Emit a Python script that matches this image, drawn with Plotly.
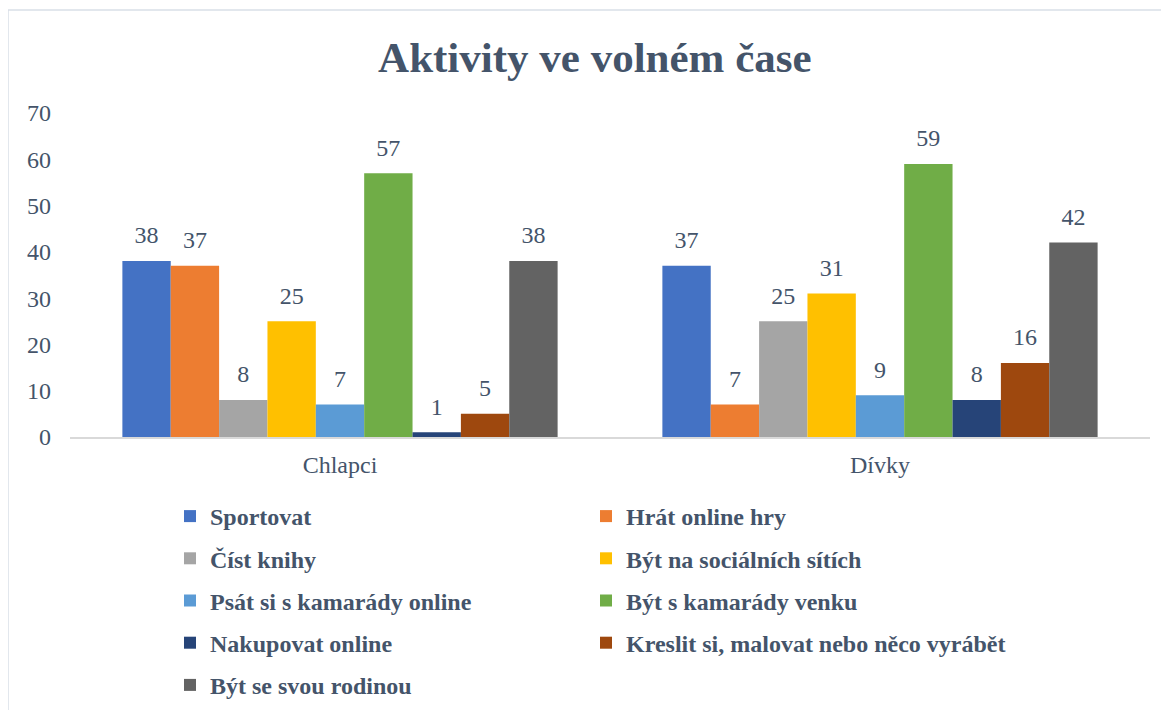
import plotly.graph_objects as go

skupiny = ["Chlapci", "Dívky"]
aktivity = [
    "Sportovat",
    "Hrát online hry",
    "Číst knihy",
    "Být na sociálních sítích",
    "Psát si s kamarády online",
    "Být s kamarády venku",
    "Nakupovat online",
    "Kreslit si, malovat nebo něco vyrábět",
    "Být se svou rodinou",
]
chlapci = [38, 37, 8, 25, 7, 57, 1, 5, 38]
divky = [37, 7, 25, 31, 9, 59, 8, 16, 42]
barvy = ["#4472C4", "#ED7D31", "#A5A5A5", "#FFC000", "#5B9BD5",
         "#70AD47", "#264478", "#9E480E", "#636363"]

W, H = 1169, 710
L, R, T, B = 62, 27, 105, 281
TXT = "#44546A"
SERIF = "Liberation Serif"

fig = go.Figure()
for i, nazev in enumerate(aktivity):
    hodnoty = [chlapci[i], divky[i]]
    fig.add_trace(go.Bar(
        x=skupiny, y=hodnoty, name=nazev,
        marker_color=barvy[i], marker_line_width=0,
        offsetgroup=str(i), legendgroup=nazev,
        legend="legend" if i % 2 == 0 else "legend2",
    ))
    # popisky hodnot nad sloupci
    fig.add_trace(go.Scatter(
        x=skupiny, y=hodnoty, mode="markers+text",
        text=[str(v) for v in hodnoty], textposition="top center",
        textfont=dict(family=SERIF, size=24, color=TXT),
        marker=dict(size=17, opacity=0),
        offsetgroup=str(i), showlegend=False, hoverinfo="skip",
        cliponaxis=False,
    ))

pw = W - L - R
ph = H - T - B
fig.add_shape(type="rect", xref="paper", yref="paper",
              x0=(0 - L) / pw, x1=(W + 10 - L) / pw,
              y0=-(B + 10) / ph, y1=(H - B - 2) / ph,
              line=dict(color="#D9DFE7", width=1.5), layer="below")

legenda = dict(
    xref="container", yref="container", yanchor="top", xanchor="left",
    font=dict(family=SERIF, size=24, color=TXT, weight="bold"),
    tracegroupgap=8, traceorder="grouped", bgcolor="rgba(0,0,0,0)",
)

fig.update_layout(
    width=W, height=H,
    margin=dict(l=L, r=R, t=T, b=B, autoexpand=False),
    paper_bgcolor="white", plot_bgcolor="white",
    barmode="group", scattermode="group",
    bargap=0.194, bargroupgap=0, scattergap=0.194,
    title=dict(text="<b>Aktivity ve volném čase</b>", x=0.502, xanchor="center",
               y=1 - 49 / H, yanchor="middle",
               font=dict(family=SERIF, size=43, color=TXT)),
    font=dict(family=SERIF, size=24, color=TXT),
    xaxis=dict(showline=True, linecolor="#D9D9D9", linewidth=1.5,
               showgrid=False, ticks="", ticklabelstandoff=5,
               tickfont=dict(family=SERIF, size=24, color=TXT)),
    yaxis=dict(range=[0, 70], dtick=10, showgrid=False, zeroline=False,
               showline=False, ticks="", ticklabelstandoff=18,
               tickfont=dict(family=SERIF, size=24, color=TXT)),
    legend=dict(legenda, x=162 / W, y=1 - 486 / H),
    legend2=dict(legenda, x=578 / W, y=1 - 486 / H),
)

fig.write_html("out.html")
